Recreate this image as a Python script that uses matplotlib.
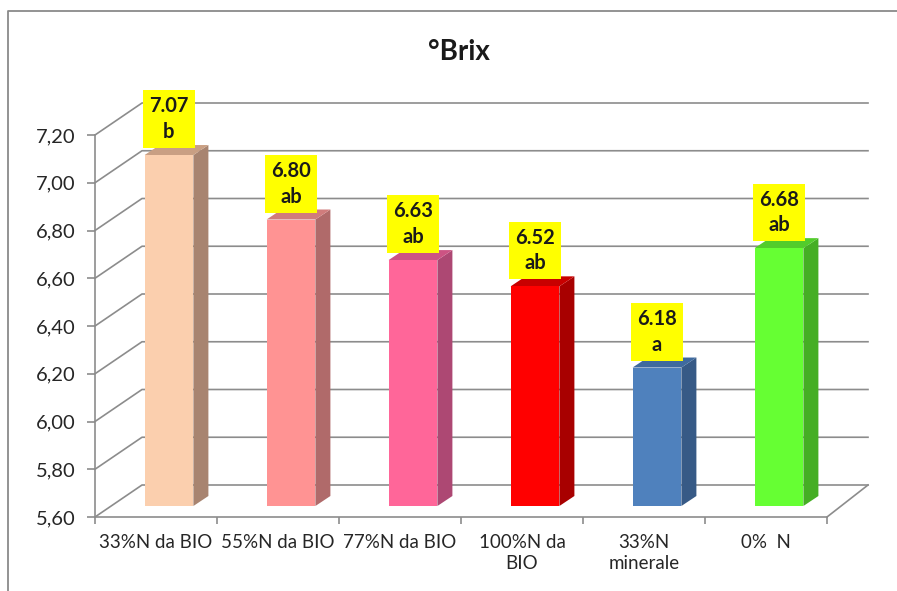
import matplotlib
matplotlib.use("Agg")
import matplotlib.pyplot as plt
import numpy as np
from matplotlib.patches import Polygon
from matplotlib.lines import Line2D
from matplotlib.transforms import IdentityTransform

plt.rcParams["font.family"] = ["Lato", "DejaVu Sans"]

categories = ["33%N da BIO", "55%N da BIO", "77%N da BIO", "100%N da\nBIO", "33%N\nminerale", "0%  N"]
values = [7.07, 6.80, 6.63, 6.52, 6.18, 6.68]
letters = ["b", "ab", "ab", "ab", "a", "ab"]
yticks = [5.60, 5.80, 6.00, 6.20, 6.40, 6.60, 6.80, 7.00, 7.20]

front_colors = ["#FBCFAE", "#FF9393", "#FF6699", "#FF0000", "#4F81BD", "#66FF33"]
side_colors = ["#A88470", "#B06A6A", "#AD4873", "#A80000", "#375A86", "#45AE24"]
top_colors = ["#C99F83", "#D07C7C", "#CC5383", "#C80000", "#3F6A9E", "#52CC2B"]

GRID = "#8c8c8c"
W, H = 897, 591
YMIN, YMAX = 5.6, 7.2

# depth of the 3D box in pixels (slight perspective left -> right)
WALL_DY = 32
WALL_DX_LEFT, WALL_DX_RIGHT = 47, 41
# bar front/back faces sit inside the box
BAR_FRONT = (13, 11)
BAR_BACK = (28, 21)
BAR_W = 0.40

fig = plt.figure(figsize=(W / 100, H / 100), dpi=100)
ax = fig.add_axes([95 / W, (H - 517) / H, (827 - 95) / W, (517 - 135) / H])
ax.set_xlim(-0.5, len(categories) - 0.5)
ax.set_ylim(YMIN, YMAX)
for s in ["top", "right"]:
    ax.spines[s].set_visible(False)
for s in ["left", "bottom"]:
    ax.spines[s].set_color(GRID)
    ax.spines[s].set_linewidth(1.2)

# outer chart frame: only the left and top edges fall inside the image
fx, fy = 7.5 / W, 1 - 10.5 / H
fig.add_artist(Line2D([fx, fx, 1.05], [-0.05, fy, fy], transform=fig.transFigure,
                      color="#8a8a8a", linewidth=1.3))


def px(x, y, dx=0.0, dy=0.0):
    X, Y = ax.transData.transform((x, y))
    return (X + dx, Y + dy)


def wall_dx(x):
    t = (x + 0.5) / len(categories)
    return WALL_DX_LEFT + (WALL_DX_RIGHT - WALL_DX_LEFT) * t


idt = IdentityTransform()
xl, xr = -0.5, len(categories) - 0.5

# back wall gridlines and left wall diagonals
for v in yticks:
    p0 = px(xl, v)
    p1 = px(xl, v, wall_dx(xl), WALL_DY)
    p2 = px(xr, v, wall_dx(xr), WALL_DY)
    ax.plot([p0[0], p1[0], p2[0]], [p0[1], p1[1], p2[1]], color=GRID, lw=1.2,
            transform=idt, clip_on=False, zorder=1)

# right floor edge
p0 = px(xr, YMIN)
p1 = px(xr, YMIN, wall_dx(xr), WALL_DY)
ax.plot([p0[0], p1[0]], [p0[1], p1[1]], color=GRID, lw=1.2, transform=idt, clip_on=False, zorder=1)

# 3D bars
fdx, fdy = BAR_FRONT
bdx, bdy = BAR_BACK
for i, v in enumerate(values):
    xa, xb = i - BAR_W / 2, i + BAR_W / 2
    front = [px(xa, YMIN, fdx, fdy), px(xb, YMIN, fdx, fdy), px(xb, v, fdx, fdy), px(xa, v, fdx, fdy)]
    side = [px(xb, YMIN, fdx, fdy), px(xb, YMIN, bdx, bdy), px(xb, v, bdx, bdy), px(xb, v, fdx, fdy)]
    top = [px(xa, v, fdx, fdy), px(xb, v, fdx, fdy), px(xb, v, bdx, bdy), px(xa, v, bdx, bdy)]
    for pts, col in [(side, side_colors[i]), (top, top_colors[i]), (front, front_colors[i])]:
        ax.add_patch(Polygon(pts, closed=True, facecolor=col, edgecolor="none",
                             transform=idt, clip_on=False, zorder=3))

    ax.annotate(f"{v:.2f}\n{letters[i]}", xy=(i, v), xytext=(fdx, fdy + 13),
                textcoords="offset pixels", ha="center", va="bottom",
                fontsize=14.5, fontweight="bold", color="#1a1a1a", linespacing=1.35,
                bbox=dict(boxstyle="square,pad=0.3", facecolor="#FFFF00", edgecolor="none"),
                zorder=5, annotation_clip=False)

# axes ticks and labels
ax.set_yticks(yticks)
ax.set_yticklabels([f"{t:.2f}".replace(".", ",") for t in yticks])
ax.tick_params(axis="y", direction="out", length=6, width=1.2, color=GRID,
               labelsize=14.5, labelcolor="#262626", pad=8)
ax.set_xticks(np.arange(-0.5, len(categories), 1.0))
ax.set_xticklabels([])
ax.tick_params(axis="x", which="major", direction="out", length=5, width=1.2, color=GRID)
ax.set_xticks(np.arange(len(categories)), minor=True)
ax.set_xticklabels(categories, minor=True)
ax.tick_params(axis="x", which="minor", length=0, labelsize=13.5, labelcolor="#262626", pad=12)
for lab in ax.get_xticklabels(minor=True):
    lab.set_linespacing(1.3)
ax.patch.set_visible(False)

fig.text(459 / W, 1 - 52 / H, "°Brix", ha="center", va="center",
         fontsize=20, fontweight="bold", color="#1a1a1a")

fig.savefig("out.png", dpi=100)
